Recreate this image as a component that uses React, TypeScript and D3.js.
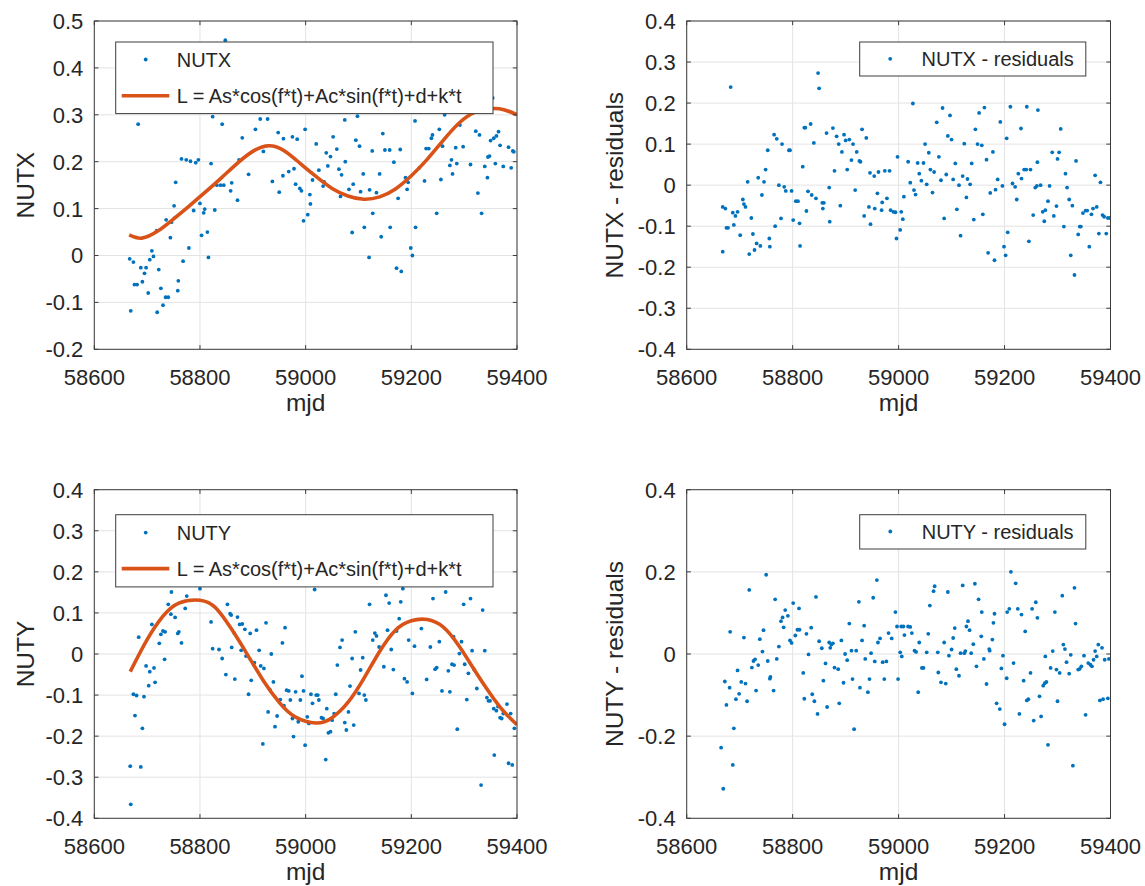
import React from "react";
import * as d3 from "d3";

// ---------- data ----------
const xTicks = [58600, 58800, 59000, 59200, 59400];
const yTicksNutx = [0.5, 0.4, 0.3, 0.2, 0.1, 0, -0.1, -0.2];
const yTicksNutxRes = [0.4, 0.3, 0.2, 0.1, 0, -0.1, -0.2, -0.3, -0.4];
const yTicksNuty = [0.4, 0.3, 0.2, 0.1, 0, -0.1, -0.2, -0.3, -0.4];
const yTicksNutyRes = [0.4, 0.2, 0, -0.2, -0.4];

const nutxObs: [number, number][] = [
  [58667,-0.007],[58669,-0.118],[58674,-0.014],[58676,-0.062],[58681,-0.062],[58683,0.28],[58688,-0.026],[58691,-0.056],
  [58695,-0.038],[58698,-0.026],[58702,-0.08],[58705,-0.009],[58709,0.01],[58712,-0.002],[58718,0.053],[58719,-0.121],
  [58722,-0.03],[58726,-0.07],[58730,-0.106],[58735,-0.089],[58736,0.076],[58740,-0.089],[58744,0.038],[58746,0.071],
  [58751,0.106],[58754,0.156],[58758,-0.075],[58759,-0.054],[58765,0.206],[58768,-0.012],[58774,0.204],[58779,0.016],
  [58782,0.201],[58788,0.096],[58792,0.198],[58797,0.204],[58800,0.111],[58803,0.043],[58807,0.091],[58809,0.099],
  [58814,0.05],[58816,-0.004],[58821,0.196],[58824,0.296],[58828,0.097],[58832,0.15],[58839,0.15],[58842,0.28],
  [58845,0.15],[58848,0.459],[58858,0.138],[58860,0.155],[58871,0.118],[58874,0.204],[58880,0.251],[58892,0.173],
  [58905,0.269],[58914,0.291],[58920,0.222],[58928,0.291],[58937,0.158],[58948,0.262],[58950,0.135],[58957,0.17],
  [58958,0.249],[58968,0.179],[58975,0.253],[58978,0.185],[58981,0.152],[58984,0.248],[58989,0.143],[58992,0.138],
  [58996,0.074],[58999,0.269],[59004,0.087],[59008,0.13],[59009,0.11],[59013,0.161],[59020,0.238],[59025,0.182],
  [59033,0.148],[59035,0.157],[59039,0.219],[59042,0.191],[59047,0.211],[59052,0.253],[59059,0.227],[59063,0.184],
  [59066,0.126],[59068,0.172],[59074,0.289],[59075,0.2],[59082,0.141],[59088,0.049],[59090,0.152],[59095,0.246],
  [59098,0.297],[59102,0.233],[59104,0.136],[59109,0.174],[59111,0.06],[59120,-0.004],[59121,0.14],[59126,0.223],
  [59127,0.09],[59134,0.134],[59140,0.174],[59143,0.04],[59146,0.26],[59150,0.225],[59159,0.225],[59160,0.06],
  [59167,0.199],[59172,-0.027],[59175,0.122],[59179,0.226],[59181,-0.034],[59189,0.166],[59192,0.141],[59194,0.156],
  [59199,0.016],[59202,0.0],[59207,0.287],[59208,0.06],[59215,0.187],[59225,0.159],[59228,0.228],[59233,0.228],
  [59238,0.25],[59240,0.257],[59248,0.09],[59253,0.269],[59256,0.162],[59259,0.233],[59263,0.3],[59273,0.192],
  [59276,0.204],[59278,0.174],[59284,0.23],[59286,0.196],[59292,0.278],[59298,0.232],[59312,0.194],[59322,0.265],
  [59326,0.133],[59329,0.257],[59333,0.09],[59339,0.19],[59344,0.166],[59345,0.21],[59348,0.212],[59350,0.245],
  [59354,0.336],[59356,0.25],[59359,0.196],[59361,0.255],[59365,0.264],[59368,0.235],[59374,0.19],[59384,0.231],
  [59389,0.187],[59392,0.223],[59394,0.221]
];

const nutxFit: [number, number][] = [
  [58666,0.044],[58690,0.037],[58720,0.052],[58750,0.078],[58780,0.106],[58810,0.135],[58840,0.165],[58870,0.196],
  [58900,0.222],[58930,0.234],[58960,0.223],[58990,0.196],[59020,0.168],[59050,0.143],[59080,0.127],[59110,0.120],
  [59140,0.125],[59170,0.142],[59200,0.170],[59230,0.205],[59260,0.245],[59290,0.282],[59320,0.305],[59350,0.313],
  [59375,0.311],[59400,0.300]
];

const nutxRes: [number, number][] = [
  [58668,-0.053],[58673,-0.057],[58668,-0.162],[58675,-0.104],[58678,-0.104],[58683,0.239],[58687,-0.067],[58692,-0.075],
  [58689,-0.097],[58696,-0.065],[58701,-0.122],[58706,-0.035],[58708,-0.046],[58711,-0.053],[58715,0.008],[58718,-0.168],
  [58722,-0.08],[58725,-0.119],[58728,-0.158],[58732,-0.142],[58735,0.018],[58739,-0.148],[58742,-0.024],[58746,0.008],
  [58749,0.038],[58753,0.085],[58756,-0.13],[58757,-0.15],[58765,0.123],[58770,0.113],[58767,-0.1],[58774,0.0],
  [58778,-0.081],[58780,0.1],[58784,-0.004],[58787,-0.014],[58793,0.085],[58795,0.085],[58798,-0.014],[58801,-0.085],
  [58806,-0.039],[58810,-0.039],[58813,-0.093],[58814,-0.148],[58819,0.045],[58822,0.14],[58824,0.14],[58826,-0.063],
  [58829,-0.015],[58834,0.149],[58836,-0.024],[58840,0.103],[58844,-0.032],[58848,0.273],[58850,0.236],[58856,-0.043],
  [58859,-0.043],[58857,-0.057],[58864,0.127],[58869,-0.006],[58870,-0.089],[58876,0.139],[58879,0.035],[58883,0.119],
  [58887,0.1],[58890,-0.05],[58893,0.081],[58897,0.123],[58900,0.109],[58903,0.038],[58907,0.111],[58911,0.061],
  [58914,0.1],[58918,-0.012],[58921,0.081],[58926,0.059],[58928,0.057],[58931,0.136],[58935,-0.075],[58939,0.115],
  [58944,-0.053],[58947,-0.095],[58946,0.03],[58954,0.022],[58955,-0.057],[58960,-0.02],[58962,0.032],[58968,-0.061],
  [58969,-0.042],[58974,0.035],[58978,-0.032],[58983,0.035],[58985,-0.061],[58990,-0.065],[58994,-0.066],[58996,-0.13],
  [58998,0.069],[59003,-0.109],[59005,-0.065],[59008,-0.083],[59010,-0.028],[59018,0.057],[59022,0.006],[59027,0.199],
  [59029,-0.012],[59032,-0.023],[59036,0.054],[59039,0.028],[59043,0.011],[59047,0.054],[59050,0.1],[59053,0.002],
  [59057,0.079],[59060,0.038],[59064,-0.018],[59067,0.032],[59072,0.153],[59076,0.069],[59080,0.012],[59083,0.188],
  [59086,-0.081],[59090,0.026],[59093,0.12],[59097,0.17],[59100,0.111],[59103,0.014],[59107,0.053],[59110,-0.059],
  [59114,0.0],[59117,-0.123],[59121,0.022],[59124,0.101],[59128,-0.03],[59130,0.015],[59135,0.002],[59138,0.053],
  [59142,-0.084],[59145,0.136],[59149,0.1],[59157,0.097],[59152,0.176],[59159,-0.071],[59162,0.189],[59166,0.062],
  [59169,-0.165],[59173,-0.019],[59178,0.081],[59181,-0.183],[59183,-0.011],[59187,0.014],[59192,0.154],[59196,-0.002],
  [59199,-0.15],[59202,-0.171],[59204,0.114],[59206,-0.115],[59211,0.191],[59215,0.004],[59220,-0.004],[59223,-0.035],
  [59226,0.028],[59231,0.138],[59232,0.016],[59237,0.038],[59241,0.038],[59242,0.191],[59246,-0.137],[59249,0.038],
  [59254,-0.073],[59258,-0.006],[59261,-0.002],[59263,0.183],[59262,0.056],[59268,0.0],[59272,-0.065],[59275,-0.088],
  [59277,-0.061],[59282,-0.039],[59285,-0.002],[59290,0.08],[59293,-0.075],[59298,-0.051],[59300,0.064],[59303,0.08],
  [59306,0.137],[59312,-0.101],[59315,0.028],[59318,-0.006],[59322,-0.035],[59325,-0.171],[59328,-0.05],[59332,-0.219],
  [59335,0.059],[59339,-0.12],[59342,-0.101],[59344,-0.101],[59348,-0.068],[59353,-0.062],[59356,-0.062],[59360,-0.15],
  [59364,-0.071],[59367,-0.057],[59371,0.024],[59374,-0.053],[59378,-0.118],[59381,0.007],[59385,-0.073],[59388,-0.077],
  [59392,-0.118],[59395,-0.08],[59399,-0.08]
];

const nutyObs: [number, number][] = [
  [58668,-0.273],[58669,-0.366],[58674,-0.098],[58680,-0.101],[58677,-0.15],[58684,0.041],[58691,-0.181],[58688,-0.275],
  [58694,-0.104],[58698,-0.029],[58703,-0.077],[58705,-0.043],[58709,0.072],[58713,-0.034],[58715,-0.069],[58723,0.026],
  [58726,0.048],[58730,0.056],[58734,0.054],[58733,-0.013],[58740,0.121],[58745,0.097],[58746,0.151],[58753,0.089],
  [58758,0.05],[58760,0.054],[58765,0.027],[58772,0.111],[58775,0.141],[58800,0.159],[58821,0.078],[58824,0.013],
  [58836,0.011],[58842,-0.011],[58849,-0.05],[58852,0.121],[58857,0.098],[58859,0.095],[58860,0.016],[58865,0.051],
  [58866,-0.061],[58871,0.09],[58875,0.072],[58878,0.009],[58880,0.073],[58885,0.06],[58887,-0.005],[58892,-0.098],
  [58895,0.05],[58897,-0.064],[58903,-0.021],[58907,0.058],[58912,0.009],[58915,-0.029],[58919,-0.219],[58921,-0.035],
  [58925,0.076],[58929,-0.141],[58932,-0.086],[58935,0.0],[58939,-0.068],[58942,-0.177],[58946,-0.151],[58952,-0.111],
  [58956,0.027],[58959,-0.126],[58961,0.064],[58964,-0.088],[58968,-0.09],[58971,-0.112],[58975,-0.157],[58977,-0.201],
  [58981,-0.092],[58986,-0.165],[58990,-0.112],[58993,-0.054],[58996,-0.09],[58999,-0.222],[59003,-0.153],[59006,-0.169],
  [59010,-0.098],[59013,-0.12],[59017,0.157],[59020,-0.1],[59023,-0.1],[59025,-0.112],[59030,-0.155],[59033,-0.157],
  [59038,-0.257],[59040,-0.133],[59043,-0.192],[59047,-0.189],[59050,-0.161],[59054,-0.145],[59057,-0.098],[59060,-0.027],
  [59065,0.016],[59069,0.034],[59074,-0.167],[59077,-0.185],[59081,-0.141],[59084,-0.078],[59088,-0.011],[59091,-0.173],
  [59094,0.054],[59101,-0.096],[59104,-0.039],[59108,-0.009],[59111,-0.1],[59114,-0.112],[59121,0.121],[59127,0.034],
  [59131,0.051],[59134,0.044],[59139,0.017],[59148,-0.031],[59152,0.143],[59155,0.058],[59158,0.124],[59162,0.011],
  [59166,-0.038],[59172,0.056],[59177,0.086],[59180,0.127],[59184,0.159],[59187,-0.06],[59192,-0.068],[59195,0.034],
  [59202,-0.096],[59206,0.019],[59219,0.062],[59229,-0.062],[59236,0.017],[59241,0.135],[59245,-0.037],[59248,-0.033],
  [59253,0.03],[59258,-0.09],[59265,0.151],[59270,-0.041],[59273,-0.092],[59277,-0.025],[59281,-0.027],[59280,0.042],
  [59287,-0.183],[59291,0.001],[59295,0.03],[59299,0.121],[59301,-0.025],[59305,-0.111],[59308,-0.047],[59312,0.135],
  [59315,0.008],[59319,-0.038],[59324,-0.084],[59332,-0.319],[59335,0.107],[59339,0.008],[59343,-0.106],[59346,-0.114],
  [59349,-0.114],[59356,-0.133],[59357,-0.246],[59361,-0.138],[59364,-0.128],[59368,-0.155],[59371,-0.157],[59374,-0.145],
  [59381,-0.122],[59384,-0.266],[59388,-0.145],[59391,-0.27],[59395,-0.181]
];

const nutyFit: [number, number][] = [
  [58668,-0.043],[58700,0.035],[58730,0.092],[58760,0.124],[58800,0.131],[58830,0.112],[58860,0.060],[58890,-0.002],
  [58920,-0.065],[58950,-0.118],[58980,-0.153],[59020,-0.168],[59050,-0.155],[59080,-0.118],[59110,-0.060],[59140,0.006],
  [59170,0.058],[59200,0.081],[59230,0.084],[59260,0.066],[59290,0.020],[59320,-0.040],[59350,-0.098],[59375,-0.140],
  [59400,-0.172]
];

const nutyRes: [number, number][] = [
  [58665,-0.228],[58669,-0.328],[58687,-0.27],[58689,-0.181],[58672,-0.067],[58675,-0.124],[58681,-0.082],[58682,0.054],
  [58693,-0.11],[58696,-0.04],[58699,-0.097],[58703,-0.068],[58711,-0.072],[58708,0.04],[58714,-0.115],[58718,0.156],
  [58723,-0.033],[58726,-0.017],[58729,-0.013],[58731,-0.089],[58735,-0.027],[58738,0.036],[58743,0.006],[58745,0.058],
  [58750,0.193],[58753,-0.017],[58757,-0.06],[58758,-0.056],[58764,-0.089],[58767,0.133],[58770,-0.012],[58774,0.018],
  [58778,0.08],[58781,0.089],[58783,0.065],[58786,0.107],[58791,0.093],[58795,0.033],[58798,0.027],[58801,0.124],
  [58805,0.045],[58809,0.059],[58813,0.059],[58812,0.111],[58820,-0.046],[58822,-0.109],[58826,0.049],[58830,-0.001],
  [58835,0.064],[58837,-0.098],[58841,-0.115],[58844,0.139],[58847,-0.146],[58850,0.031],[58855,0.014],[58858,-0.065],
  [58862,-0.023],[58865,-0.129],[58869,0.028],[58871,0.015],[58873,0.023],[58876,0.026],[58879,-0.033],[58886,-0.037],
  [58888,-0.12],[58892,0.033],[58896,-0.07],[58899,0.0],[58903,-0.015],[58907,0.074],[58911,0.008],[58913,-0.061],
  [58916,-0.183],[58920,0.008],[58925,0.127],[58927,-0.082],[58931,0.033],[58935,0.069],[58937,-0.012],[58942,-0.093],
  [58945,-0.061],[58948,0.002],[58952,0.137],[58955,-0.018],[58959,0.18],[58961,0.028],[58965,0.038],[58970,-0.02],
  [58973,-0.061],[58977,-0.018],[58981,0.051],[58987,0.038],[58994,0.102],[58997,0.067],[58999,-0.061],[59003,0.004],
  [59005,0.067],[59006,-0.006],[59009,0.067],[59011,0.046],[59018,0.067],[59022,0.066],[59025,0.051],[59030,0.008],
  [59033,0.005],[59037,-0.093],[59039,0.028],[59044,-0.034],[59047,-0.034],[59053,0.004],[59056,0.049],[59059,0.118],
  [59066,0.153],[59068,0.165],[59074,0.004],[59075,-0.045],[59080,-0.069],[59086,0.028],[59089,-0.072],[59093,0.151],
  [59095,-0.004],[59100,0.011],[59103,0.039],[59106,0.063],[59109,-0.037],[59114,-0.053],[59117,0.002],[59121,0.167],
  [59124,0.002],[59126,0.007],[59128,0.067],[59131,0.08],[59134,0.058],[59137,0.002],[59141,0.024],[59144,0.171],
  [59147,-0.03],[59151,0.133],[59156,0.043],[59157,0.102],[59161,-0.012],[59166,-0.073],[59171,0.012],[59172,0.008],
  [59177,0.035],[59179,0.076],[59181,0.098],[59185,-0.12],[59191,-0.134],[59194,-0.035],[59197,-0.004],[59200,-0.171],
  [59204,-0.059],[59205,0.102],[59209,0.11],[59212,0.2],[59217,-0.022],[59221,0.172],[59225,0.11],[59228,-0.146],
  [59232,0.096],[59236,-0.065],[59239,0.055],[59242,-0.113],[59245,-0.11],[59249,-0.046],[59252,0.11],[59255,-0.162],
  [59259,0.126],[59262,0.088],[59266,-0.103],[59269,-0.152],[59273,-0.077],[59276,-0.071],[59277,-0.006],[59279,-0.068],
  [59282,-0.221],[59287,-0.034],[59291,0.007],[59295,0.102],[59298,-0.038],[59300,-0.115],[59304,-0.046],[59309,0.142],
  [59311,0.023],[59314,0.012],[59317,-0.02],[59322,-0.048],[59325,-0.002],[59329,-0.272],[59332,0.161],[59334,0.074],
  [59339,-0.038],[59342,-0.036],[59345,-0.03],[59350,-0.004],[59353,-0.148],[59358,-0.022],[59362,-0.026],[59365,-0.03],
  [59368,-0.014],[59371,0.007],[59374,-0.006],[59377,0.023],[59380,-0.113],[59384,0.015],[59386,-0.11],[59389,-0.014],
  [59397,-0.012],[59395,-0.108]
];

// ---------- styling ----------
const BLUE = "#0072BD";
const ORANGE = "#D95319";
const AXIS = "#3c3c3c";
const GRID = "#e3e3e3";
const TEXT = "#262626";
const FONT = "'Liberation Sans', Arial, Helvetica, sans-serif";

type Legend = {
  x0: number; x1: number; y0: number; y1: number;
  markerX: number; textX: number;
  rows: { kind: "dot" | "line"; y: number; label: string }[];
};

type PanelDef = {
  id: string;
  left: number; right: number; top: number; bottom: number;
  yDomain: [number, number];
  yTicks: number[];
  ylabel: string;
  ylabelX: number;
  points: [number, number][];
  fit?: [number, number][];
  legend: Legend;
};

const panels: PanelDef[] = [
  {
    id: "p1", left: 94.3, right: 517, top: 21, bottom: 349.3,
    yDomain: [-0.2, 0.5], yTicks: yTicksNutx, ylabel: "NUTX", ylabelX: 25,
    points: nutxObs, fit: nutxFit,
    legend: {
      x0: 115.7, x1: 493, y0: 42, y1: 113.6, markerX: 145.7, textX: 176.7,
      rows: [
        { kind: "dot", y: 59.5, label: "NUTX" },
        { kind: "line", y: 95.7, label: "L = As*cos(f*t)+Ac*sin(f*t)+d+k*t" },
      ],
    },
  },
  {
    id: "p2", left: 686.7, right: 1110.5, top: 21, bottom: 349.3,
    yDomain: [-0.4, 0.4], yTicks: yTicksNutxRes, ylabel: "NUTX - residuals", ylabelX: 614,
    points: nutxRes,
    legend: {
      x0: 859.7, x1: 1085.8, y0: 42, y1: 76, markerX: 890.2, textX: 921.5,
      rows: [{ kind: "dot", y: 58.8, label: "NUTX - residuals" }],
    },
  },
  {
    id: "p3", left: 94.3, right: 517, top: 489.7, bottom: 818.3,
    yDomain: [-0.4, 0.4], yTicks: yTicksNuty, ylabel: "NUTY", ylabelX: 25,
    points: nutyObs, fit: nutyFit,
    legend: {
      x0: 115.7, x1: 493, y0: 514.7, y1: 586.9, markerX: 145.7, textX: 176.7,
      rows: [
        { kind: "dot", y: 532.6, label: "NUTY" },
        { kind: "line", y: 568.6, label: "L = As*cos(f*t)+Ac*sin(f*t)+d+k*t" },
      ],
    },
  },
  {
    id: "p4", left: 686.7, right: 1110.5, top: 489.7, bottom: 818.3,
    yDomain: [-0.4, 0.4], yTicks: yTicksNutyRes, ylabel: "NUTY - residuals", ylabelX: 614,
    points: nutyRes,
    legend: {
      x0: 859.7, x1: 1085.8, y0: 514.7, y1: 549, markerX: 890.3, textX: 921.7,
      rows: [{ kind: "dot", y: 531.5, label: "NUTY - residuals" }],
    },
  },
];

const fmt = (v: number) => {
  const s = d3.format("~g")(Math.round(v * 1000) / 1000);
  return s.replace("−", "-");
};

function Panel({ p }: { p: PanelDef }) {
  const x = d3.scaleLinear().domain([58600, 59400]).range([p.left, p.right]);
  const y = d3.scaleLinear().domain(p.yDomain).range([p.bottom, p.top]);
  const tl = 4.2;
  const line = d3
    .line<[number, number]>()
    .x((d) => x(d[0]))
    .y((d) => y(d[1]))
    .curve(d3.curveNatural);
  const clipId = `clip-${p.id}`;
  const L = p.legend;
  return (
    <g>
      <defs>
        <clipPath id={clipId}>
          <rect x={p.left} y={p.top} width={p.right - p.left} height={p.bottom - p.top} />
        </clipPath>
      </defs>
      <rect x={p.left} y={p.top} width={p.right - p.left} height={p.bottom - p.top} fill="#fff" />
      {/* grid */}
      {xTicks.map((t) => (
        <line key={"gx" + t} x1={x(t)} x2={x(t)} y1={p.top} y2={p.bottom} stroke={GRID} strokeWidth={1} />
      ))}
      {p.yTicks.map((t) => (
        <line key={"gy" + t} x1={p.left} x2={p.right} y1={y(t)} y2={y(t)} stroke={GRID} strokeWidth={1} />
      ))}
      {/* data */}
      <g clipPath={`url(#${clipId})`}>
        {p.points.map((d, i) => (
          <circle key={i} cx={x(d[0])} cy={y(d[1])} r={1.9} fill={BLUE} />
        ))}
        {p.fit && <path d={line(p.fit) || ""} fill="none" stroke={ORANGE} strokeWidth={3.6} strokeLinejoin="round" />}
      </g>
      {/* box + ticks */}
      <rect x={p.left} y={p.top} width={p.right - p.left} height={p.bottom - p.top} fill="none" stroke={AXIS} strokeWidth={1} />
      {xTicks.map((t) => (
        <g key={"tx" + t}>
          <line x1={x(t)} x2={x(t)} y1={p.bottom} y2={p.bottom - tl} stroke={AXIS} />
          <line x1={x(t)} x2={x(t)} y1={p.top} y2={p.top + tl} stroke={AXIS} />
          <text x={x(t)} y={p.bottom + 36} textAnchor="middle" fontSize={22} fill={TEXT} fontFamily={FONT}>
            {t}
          </text>
        </g>
      ))}
      {p.yTicks.map((t) => (
        <g key={"ty" + t}>
          <line x1={p.left} x2={p.left + tl} y1={y(t)} y2={y(t)} stroke={AXIS} />
          <line x1={p.right} x2={p.right - tl} y1={y(t)} y2={y(t)} stroke={AXIS} />
          <text x={p.left - 11} y={y(t) + 7.9} textAnchor="end" fontSize={22} fill={TEXT} fontFamily={FONT}>
            {fmt(t)}
          </text>
        </g>
      ))}
      {/* axis labels */}
      <text
        x={(p.left + p.right) / 2}
        y={p.bottom + 62}
        textAnchor="middle"
        fontSize={24.5}
        fill={TEXT}
        fontFamily={FONT}
      >
        mjd
      </text>
      <text
        transform={`translate(${p.ylabelX + 8.8},${(p.top + p.bottom) / 2}) rotate(-90)`}
        textAnchor="middle"
        fontSize={24.5}
        fill={TEXT}
        fontFamily={FONT}
      >
        {p.ylabel}
      </text>
      {/* legend */}
      <rect x={L.x0} y={L.y0} width={L.x1 - L.x0} height={L.y1 - L.y0} fill="#fff" stroke={AXIS} strokeWidth={1} />
      {L.rows.map((r, i) => (
        <g key={i}>
          {r.kind === "dot" ? (
            <circle cx={L.markerX} cy={r.y} r={1.9} fill={BLUE} />
          ) : (
            <line x1={L.markerX - 24} x2={L.markerX + 23.6} y1={r.y} y2={r.y} stroke={ORANGE} strokeWidth={3.6} />
          )}
          <text x={L.textX} y={r.y + 7.2} fontSize={20} fill={TEXT} fontFamily={FONT}>
            {r.label}
          </text>
        </g>
      ))}
    </g>
  );
}

export default function App() {
  return (
    <svg
      width={1145}
      height={886}
      viewBox="0 0 1145 886"
      style={{ position: "absolute", left: 0, top: 0, background: "#fff" }}
    >
      <rect x={0} y={0} width={1145} height={886} fill="#fff" />
      {panels.map((p) => (
        <Panel key={p.id} p={p} />
      ))}
    </svg>
  );
}
